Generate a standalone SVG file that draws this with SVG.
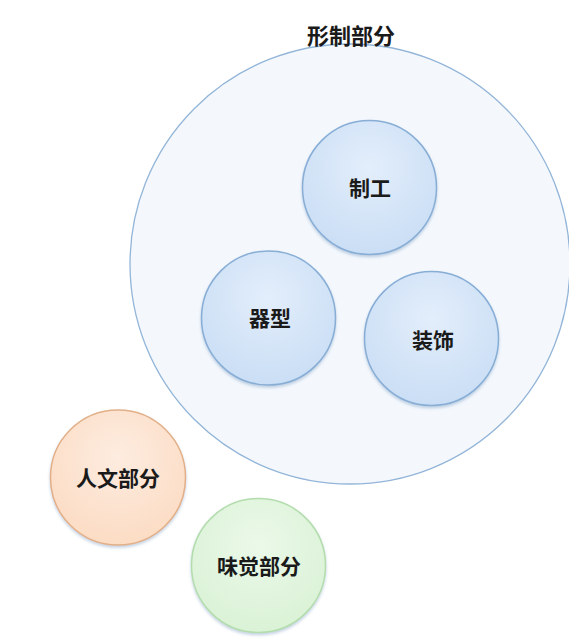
<svg xmlns="http://www.w3.org/2000/svg" width="569" height="641" viewBox="0 0 569 641">
<defs>
<radialGradient id="gBlue" cx="50%" cy="35%" r="65%">
<stop offset="0" stop-color="#e3eefb"/>
<stop offset="1" stop-color="#cadef5"/>
</radialGradient>
<radialGradient id="gOrange" cx="50%" cy="35%" r="65%">
<stop offset="0" stop-color="#fdece0"/>
<stop offset="1" stop-color="#fcdcc4"/>
</radialGradient>
<radialGradient id="gGreen" cx="50%" cy="35%" r="65%">
<stop offset="0" stop-color="#ebf9e9"/>
<stop offset="1" stop-color="#daf2d6"/>
</radialGradient>
<filter id="sh" x="-20%" y="-20%" width="140%" height="150%">
<feDropShadow dx="0" dy="2" stdDeviation="1.5" flood-color="#6a8fb8" flood-opacity="0.4"/>
</filter>
</defs>
<style>
.lbl{font-family:"Noto Sans CJK SC","Noto Sans CJK JP",sans-serif;font-weight:bold;fill:#1a1a1a;text-anchor:middle;dominant-baseline:central;font-size:21px}
.blue{fill:url(#gBlue);stroke:#88aed6;stroke-width:1.5;filter:url(#sh)}
.orange{fill:url(#gOrange);stroke:#e2b088;stroke-width:1.5;filter:url(#sh)}
.green{fill:url(#gGreen);stroke:#b4ddae;stroke-width:1.5;filter:url(#sh)}
</style>
<rect width="569" height="641" fill="#ffffff"/>
<g id="xingzhi">
<circle cx="350" cy="264" r="220" fill="#f4f8fd" stroke="#93b5d8" stroke-width="1.3"/>
<text class="lbl" x="351" y="34" style="font-size:22px">形制部分</text>
</g>
<g id="zhigong">
<circle class="blue" cx="369.5" cy="187.5" r="67"/>
<text class="lbl" x="370" y="187">制工</text>
</g>
<g id="qixing">
<circle class="blue" cx="268.5" cy="318" r="67"/>
<text class="lbl" x="270" y="317">器型</text>
</g>
<g id="zhuangshi">
<circle class="blue" cx="431.5" cy="338.5" r="67"/>
<text class="lbl" x="433" y="339">装饰</text>
</g>
<g id="renwen">
<circle class="orange" cx="118" cy="477.5" r="67.5"/>
<text class="lbl" x="118" y="477">人文部分</text>
</g>
<g id="weijue">
<circle class="green" cx="258.5" cy="565.5" r="67"/>
<text class="lbl" x="259" y="565">味觉部分</text>
</g>
<g id="connectors"/>
</svg>
